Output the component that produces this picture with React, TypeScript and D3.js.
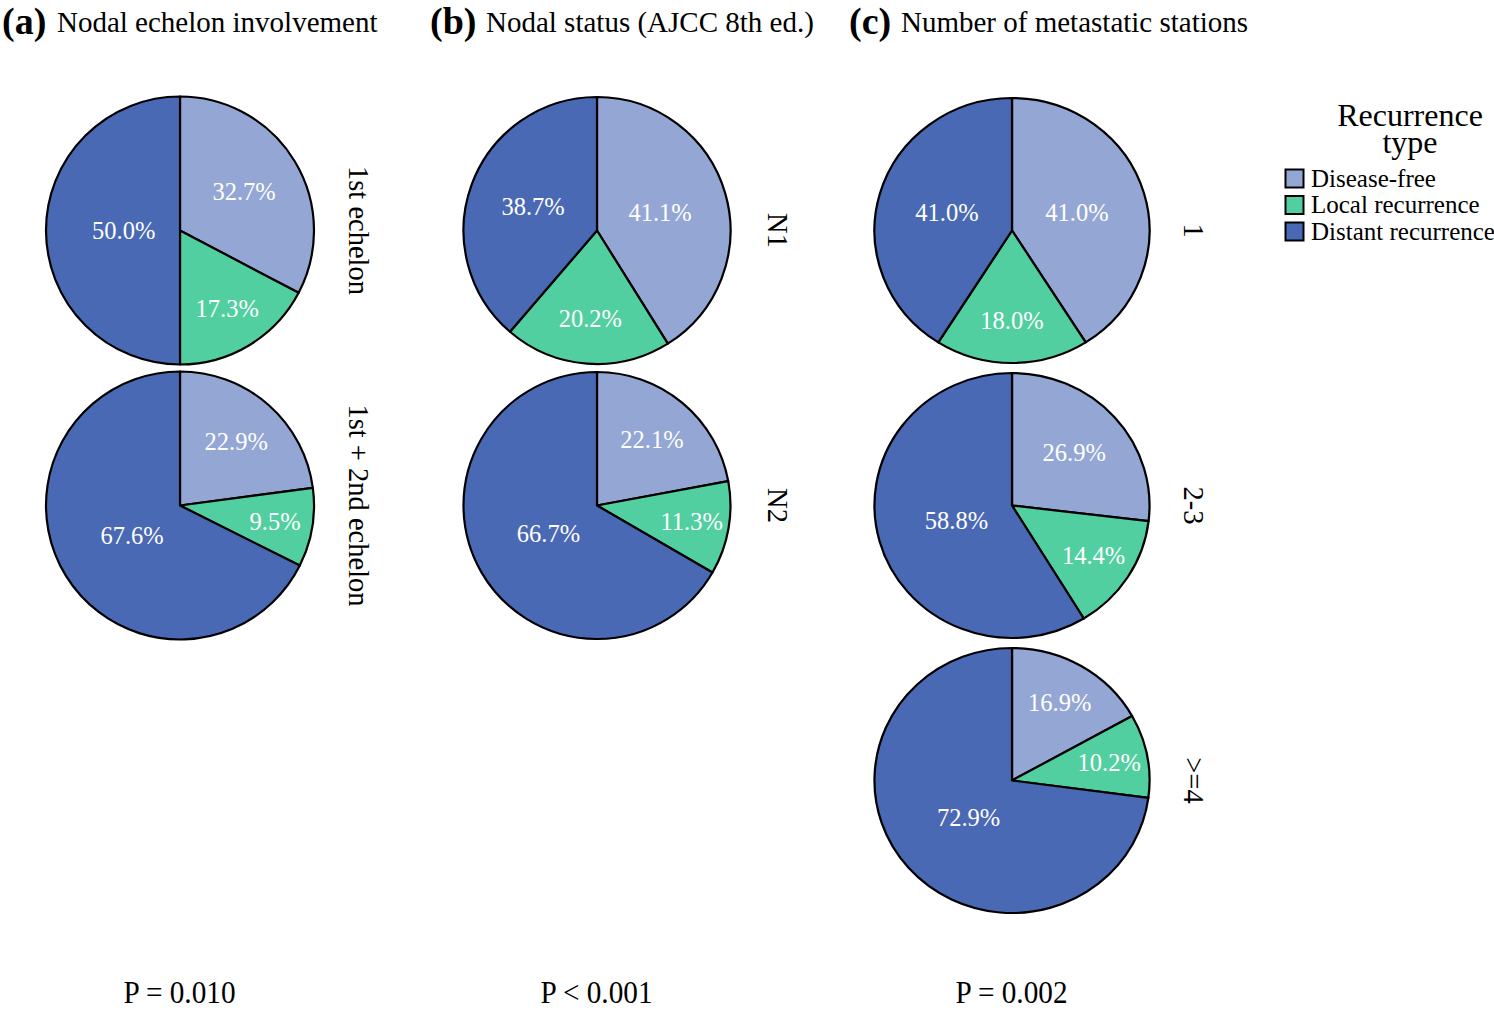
import React from "react";
import * as d3 from "d3";

// ---------- data ----------
const recurrenceTypes = ["Disease-free", "Local recurrence", "Distant recurrence"];
const typeColors = ["#94a7d4", "#52cfa0", "#4a69b5"];

const panelTags = ["(a)", "(b)", "(c)"];
const panelTitles = ["Nodal echelon involvement", "Nodal status (AJCC 8th ed.)", "Number of metastatic stations"];
const pValues = ["P = 0.010", "P < 0.001", "P = 0.002"];

const echelonGroups = ["1st echelon", "1st + 2nd echelon"];
const echelonValues = [
  [32.7, 17.3, 50.0],
  [22.9, 9.5, 67.6],
];

const nodalGroups = ["N1", "N2"];
const nodalValues = [
  [41.1, 20.2, 38.7],
  [22.1, 11.3, 66.7],
];

const stationGroups = ["1", "2-3", ">=4"];
const stationValues = [
  [41.0, 18.0, 41.0],
  [26.9, 14.4, 58.8],
  [16.9, 10.2, 72.9],
];

const panels = [
  { groups: echelonGroups, values: echelonValues },
  { groups: nodalGroups, values: nodalValues },
  { groups: stationGroups, values: stationValues },
];

// ---------- layout ----------
const W = 1494;
const H = 1012;
const FONT = "'Liberation Serif', 'Times New Roman', serif";

const colCenters = [180, 597, 1012];
const rowY = d3.scalePoint<number>().domain([0, 1, 2]).range([230.5, 780.5]);
const radii = [134, 133.5, 132.5];
const xStretch = [1, 1, 1.038];
const stripOffset = [178, 180, 181];

const pie = d3
  .pie<number>()
  .sort(null)
  .value((d) => d)
  .startAngle(0)
  .endAngle(2 * Math.PI);

function labelRadiusFactor(f: number) {
  return Math.max(0.42, Math.min(0.72, 0.82 - 0.8 * f));
}

function Pie({ cx, cy, r, sx, values }: { cx: number; cy: number; r: number; sx: number; values: number[] }) {
  const arcs = pie(values);
  const arc = d3.arc<d3.PieArcDatum<number>>().innerRadius(0).outerRadius(r);
  const total = d3.sum(values);
  return (
    <g>
      <g transform={`translate(${cx},${cy}) scale(${sx},1)`}>
        {arcs.map((a, i) => (
          <path key={i} d={arc(a) || ""} fill={typeColors[i]} stroke="#000" strokeWidth={2.2 / Math.sqrt(sx)} strokeLinejoin="round" />
        ))}
      </g>
      {arcs.map((a, i) => {
        const mid = (a.startAngle + a.endAngle) / 2;
        const rho = r * labelRadiusFactor(values[i] / total);
        const x = cx + rho * Math.sin(mid) * sx;
        const y = cy - rho * Math.cos(mid);
        return (
          <text key={"t" + i} x={x} y={y} dy="0.35em" textAnchor="middle" fill="#fff" fontSize={24.5} fontFamily={FONT}>
            {values[i].toFixed(1)}%
          </text>
        );
      })}
    </g>
  );
}

export default function App() {
  return (
    <svg width={W} height={H} style={{ position: "absolute", left: 0, top: 0, background: "#fff" }}>
      <rect width={W} height={H} fill="#fff" />
      {/* titles */}
      {[2, 430, 849].map((x, i) => (
        <text key={"tag" + i} x={x} y={34} fontSize={38} fontWeight="bold" fontFamily={FONT} fill="#000">
          {panelTags[i]}
        </text>
      ))}
      {[57, 486, 901].map((x, i) => (
        <text key={"title" + i} x={x} y={32} fontSize={29} fontFamily={FONT} fill="#000">
          {panelTitles[i]}
        </text>
      ))}

      {panels.map((p, pi) => {
        const cx = colCenters[pi];
        return (
          <g key={"panel" + pi}>
            {p.groups.map((g, gi) => {
              const cy = rowY(gi) as number;
              return (
                <g key={"g" + gi}>
                  <Pie cx={cx} cy={cy} r={radii[pi]} sx={xStretch[pi]} values={p.values[gi]} />
                  <text
                    transform={`translate(${cx + stripOffset[pi]},${cy}) rotate(90)`}
                    textAnchor="middle"
                    dy="0.33em"
                    fontSize={28.5}
                    fontFamily={FONT}
                    fill="#000"
                  >
                    {g}
                  </text>
                </g>
              );
            })}
            <text
              x={cx - 0.5}
              y={1003}
              textAnchor="middle"
              fontSize={32}
              fontFamily={FONT}
              fill="#000"
              textLength={112}
              lengthAdjust="spacingAndGlyphs"
            >
              {pValues[pi]}
            </text>
          </g>
        );
      })}

      {/* legend */}
      <g>
        <text x={1410} y={126} textAnchor="middle" fontSize={32} fontFamily={FONT} fill="#000">
          Recurrence
        </text>
        <text x={1410} y={153} textAnchor="middle" fontSize={32} fontFamily={FONT} fill="#000">
          type
        </text>
        {recurrenceTypes.map((t, i) => {
          const y = 178.5 + i * 26.5;
          return (
            <g key={"leg" + i}>
              <rect x={1285.5} y={y - 9} width={18} height={18} fill={typeColors[i]} stroke="#000" strokeWidth={2} />
              <text x={1311} y={y + 8} fontSize={25} fontFamily={FONT} fill="#000">
                {t}
              </text>
            </g>
          );
        })}
      </g>
    </svg>
  );
}
